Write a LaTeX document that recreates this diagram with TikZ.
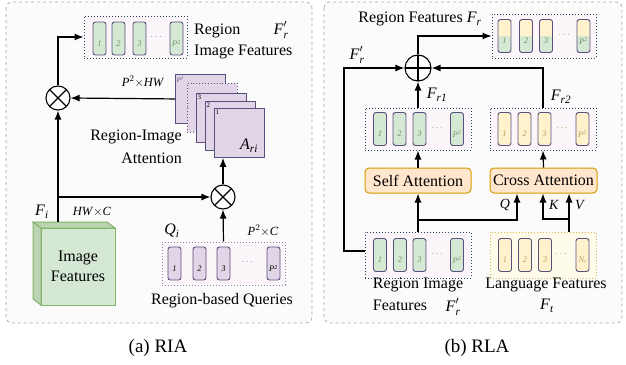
\documentclass[tikz,border=0pt]{standalone}
\usepackage{fontspec}
\setmainfont{Liberation Serif}
\usepackage{amsmath}
\usetikzlibrary{arrows.meta}
\newcommand{\mi}[1]{\text{\textit{#1}}}
\newcommand{\mainf}{\fontsize{16}{18}\selectfont}
\newcommand{\smallf}{\fontsize{12.5}{14}\selectfont}
\newcommand{\capf}{\fontsize{19}{21}\selectfont}
\definecolor{gfill}{HTML}{D5E8D4}
\definecolor{pfill}{HTML}{E1D5E7}
\definecolor{yfill}{HTML}{FFF2CC}
\definecolor{barc}{HTML}{56517E}
\definecolor{dboxc}{HTML}{23445D}
\definecolor{dboxfill}{HTML}{FCF5FA}
\definecolor{ofill}{HTML}{FFE6CC}
\definecolor{odraw}{HTML}{D79B00}
\definecolor{ldraw}{HTML}{D6B656}
\definecolor{lfill}{HTML}{FFFBEA}
\definecolor{cgreen}{HTML}{82B366}
\definecolor{cgreen2}{HTML}{BCD4B3}
\definecolor{panelc}{HTML}{A8A8A8}
\definecolor{dotsc}{HTML}{9673A6}
\definecolor{lblG}{HTML}{6F9460}
\definecolor{lblY}{HTML}{B5A060}
\newcommand{\mybar}[6]{\node[#4] (#1) at (#2,#3) {}; \node[barlbl,text=#5] (#1l) at (#2,#3+5) {#6};}
\newcommand{\Psq}{\textit{P}\textsuperscript{2}}
\tikzset{
  panel/.style={draw=panelc, dashed, rounded corners=6pt, fill=black!1.5, line width=0.7pt},
  dbox/.style={draw=dboxc, dotted, line width=1pt, fill=dboxfill, inner sep=0pt},
  barbox/.style={draw=barc, line width=0.9pt, rounded corners=2.5pt, minimum width=13pt, minimum height=33pt, inner sep=0pt},
  barG/.style={barbox, fill=gfill},
  barP/.style={barbox, fill=pfill},
  barY/.style={barbox, fill=yfill},
  barS/.style={barbox, fill=yfill, path picture={\fill[gfill] (path picture bounding box.west) rectangle (path picture bounding box.south east);}},
  barlbl/.style={font=\fontsize{8.5}{9}\selectfont\itshape, inner sep=0pt},
  arr/.style={line width=1.2pt, -{Latex[length=9pt,width=7pt]}},
  ln/.style={line width=1.2pt},
  otimesn/.style={circle, draw, fill=white, line width=1.1pt, minimum size=24pt, inner sep=0pt,
    path picture={\draw[line width=1.1pt] (path picture bounding box.north west)--(path picture bounding box.south east) (path picture bounding box.north east)--(path picture bounding box.south west);}},
  oplusn/.style={circle, draw, line width=1.1pt, minimum size=26pt, inner sep=0pt,
    path picture={\draw[line width=1.1pt] (path picture bounding box.north)--(path picture bounding box.south) (path picture bounding box.east)--(path picture bounding box.west);}},
  sq/.style={draw=barc, fill=pfill, line width=0.9pt, minimum width=50pt, minimum height=49pt, anchor=north west, inner sep=0pt},
  attn/.style={draw=odraw, fill=ofill, line width=1pt, rounded corners=4pt, minimum width=106pt, minimum height=25pt, inner sep=0pt, font=\mainf},
  txt/.style={font=\mainf, inner sep=0pt},
  stxt/.style={font=\smallf, inner sep=0pt},
  dots/.style={inner sep=0pt, text=dotsc, font=\fontsize{10}{10}\selectfont},
}
\begin{document}
\begin{tikzpicture}[x=1pt, y=-1pt]
\useasboundingbox (0,0) rectangle (626,364);
% panels
\draw[panel] (6,2) rectangle (312,323);
\draw[panel] (324,2) rectangle (622,323);

% ===== Left panel (RIA) =====
\node[dbox, minimum width=103pt, minimum height=42pt] (rif) at (135.5,37) {};
\mybar{a1}{99.5}{38.5}{barG}{lblG}{1}
\mybar{a2}{118.5}{38.5}{barG}{lblG}{2}
\mybar{a3}{139.5}{38.5}{barG}{lblG}{3}
\node[dots] (adots) at (157,37) {$\cdots$};
\mybar{a4}{176.5}{38.5}{barG}{lblG}{\Psq}
\node[txt, anchor=west] (trg) at (194,31) {Region};
\node[txt, anchor=west] (tif) at (194,52) {Image Features};
\node[txt] (tfr) at (281,30) {$\mi{F}'_{\mi{r}}$};

\node[otimesn] (ot1) at (58,98) {};
\draw[arr] (ot1.north) |- (rif.west);

% attention stack
\node[sq] (sqP) at (175,74) {};
\node[sq, dotted] (sqD) at (187,83) {};
\node[sq] (sq3) at (196,93) {};
\node[sq] (sq2) at (205,101) {};
\node[sq] (sq1) at (214,108) {};
\node[barlbl, text=barc, anchor=north west, font=\fontsize{7}{7}\selectfont\itshape] (lP) at ([xshift=1.5pt,yshift=-1.5pt]sqP.north west) {\Psq};
\node[barlbl, text=black, anchor=north west, font=\fontsize{7}{7}\selectfont] (l3) at ([xshift=1.5pt,yshift=-1.5pt]sq3.north west) {3};
\node[barlbl, text=black, anchor=north west, font=\fontsize{7}{7}\selectfont] (l2) at ([xshift=1.5pt,yshift=-1.5pt]sq2.north west) {2};
\node[barlbl, text=black, anchor=north west, font=\fontsize{7}{7}\selectfont] (l1) at ([xshift=1.5pt,yshift=-1.5pt]sq1.north west) {1};
\node[txt] (tari) at (249,146) {$\mi{A}_{\mi{ri}}$};
\node[stxt] (tphw) at (143,82) {$\mi{P}^{2}{\times}\mi{HW}$};
\draw[arr] (sqP.west) -- (ot1.east);
\node[txt, anchor=east] (tri) at (182,137) {Region-Image};
\node[txt, anchor=east] (tat) at (182,158) {Attention};

\node[otimesn] (ot2) at (223,197) {};
\draw[arr] (ot2.north) -- (ot2.north |- sq1.south);

% cube
\coordinate (ctop) at (58,222);
\filldraw[fill=cgreen2, draw=cgreen, line width=1pt] (33,222) -- (107,222) -- (115,228) -- (41,228) -- cycle;
\filldraw[fill=cgreen2, draw=cgreen, line width=1pt] (33,222) -- (41,228) -- (41,305) -- (33,299) -- cycle;
\node[draw=cgreen, fill=gfill, line width=1pt, minimum width=74pt, minimum height=77pt, inner sep=0pt, align=center, font=\mainf] (cube) at (78,266.5) {Image\\[2pt]Features};
\node[txt] (tfi) at (42,212) {$\mi{F}_{\mi{i}}$};
\node[stxt] (thwc) at (92,212) {\textit{HW}${\times}$\textit{C}};
\coordinate (br1) at (58,197);
\draw[arr] (ctop) -- (ot1.south);
\draw[arr] (br1) -- (ot2.west);

% queries
\node[dbox, draw=barc!70, minimum width=123pt, minimum height=43pt] (qbox) at (223.5,263.5) {};
\mybar{q1}{174.5}{263.5}{barP}{black}{1}
\mybar{q2}{199.5}{263.5}{barP}{black}{2}
\mybar{q3}{223.5}{263.5}{barP}{black}{3}
\node[dots] (qdots) at (248,262) {$\cdots$};
\mybar{q4}{273.5}{263.5}{barP}{black}{\Psq}
\draw[arr] (qbox.north) -- (ot2.south);
\node[txt] (tqi) at (172,231) {$\mi{Q}_{\mi{i}}$};
\node[stxt] (tp2c) at (263,231) {$\mi{P}^{2}{\times}\mi{C}$};
\node[txt] (trq) at (222,301) {Region-based Queries};

% ===== Right panel (RLA) =====
\node[dbox, minimum width=104pt, minimum height=44pt] (fbox) at (544,36) {};
\mybar{f1}{504.5}{36}{barS}{lblG}{1}
\mybar{f2}{526}{36}{barS}{lblG}{2}
\mybar{f3}{546}{36}{barS}{lblG}{3}
\node[dots, text=lblY] (fdots) at (565,35) {$\cdots$};
\mybar{f4}{583.5}{36}{barS}{lblG}{\Psq}
\node[txt] (trf) at (420,19) {Region Features $\mi{F}_{\mi{r}}$};

\node[oplusn] (op) at (418,68) {};
\draw[arr] (op.north) |- (fbox.west);

\node[dbox, minimum width=106pt, minimum height=42pt] (r1box) at (418,129) {};
\mybar{b1}{380}{129}{barG}{lblG}{1}
\mybar{b2}{399.5}{129}{barG}{lblG}{2}
\mybar{b3}{419.5}{129}{barG}{lblG}{3}
\node[dots, text=cgreen] (bdots) at (438,128) {$\cdots$};
\mybar{b4}{457}{129}{barG}{lblG}{\Psq}

\node[dbox, minimum width=106pt, minimum height=42pt] (r2box) at (543,129) {};
\mybar{c1}{504.5}{129}{barY}{lblY}{1}
\mybar{c2}{524.5}{129}{barY}{lblY}{2}
\mybar{c3}{544.5}{129}{barY}{lblY}{3}
\node[dots, text=lblY] (cdots) at (563,128) {$\cdots$};
\mybar{c4}{582.5}{129}{barY}{lblY}{\Psq}

\node[attn] (sa) at (418,180.5) {Self Attention};
\node[attn, minimum width=107pt] (ca) at (543.5,180.5) {Cross Attention};

\node[dbox, minimum width=106pt, minimum height=46pt] (rib) at (418,255) {};
\mybar{d1}{380}{255}{barG}{lblG}{1}
\mybar{d2}{400}{255}{barG}{lblG}{2}
\mybar{d3}{419.5}{255}{barG}{lblG}{3}
\node[dots, text=cgreen] (ddots) at (438,254) {$\cdots$};
\mybar{d4}{457}{255}{barG}{lblG}{\Psq}

\node[dbox, draw=ldraw, fill=lfill, minimum width=106pt, minimum height=46pt] (lb) at (543,255) {};
\mybar{e1}{505}{255}{barY}{lblY}{1}
\mybar{e2}{525}{255}{barY}{lblY}{2}
\mybar{e3}{545}{255}{barY}{lblY}{3}
\node[dots, text=lblY] (edots) at (562,254) {$\cdots$};
\mybar{e4}{582.5}{255}{barY}{lblY}{$\mi{N}_{\mi{t}}$}

% connectors right panel
\draw[arr] (rib.north) -- (sa.south);
\coordinate (qb) at (418,220);
\coordinate (qx) at (517,220);
\draw[arr] (qb) -- (qx) -- (qx |- ca.south);
\coordinate (vx) at (569,232);
\coordinate (kb) at (569,219);
\coordinate (kx) at (543,219);
\draw[arr] (vx) -- (vx |- ca.south);
\draw[arr] (kb) -- (kx) -- (kx |- ca.south);
\node[font=\fontsize{14}{14}\selectfont, inner sep=0pt] (tq) at (505,205) {\textit{Q}};
\node[font=\fontsize{14}{14}\selectfont, inner sep=0pt] (tk) at (554,205) {\textit{K}};
\node[font=\fontsize{14}{14}\selectfont, inner sep=0pt] (tv) at (580,205) {\textit{V}};

\draw[arr] (sa.north) -- (r1box.south);
\draw[arr] (ca.north) -- (r2box.south);
\draw[arr] (r1box.north) -- (op.south);
\draw[arr] (r2box.north) |- (op.east);
\coordinate (lp) at (344,251);
\draw[arr] (rib.west |- lp) -- (lp) |- (op.west);
\node[txt] (tfr1) at (437,95) {$\mi{F}_{\mi{r1}}$};
\node[txt] (tfr2) at (561,97) {$\mi{F}_{\mi{r2}}$};
\node[txt] (tfrp) at (357,55) {$\mi{F}'_{\mi{r}}$};

\node[txt] (trib) at (418,285) {Region Image};
\node[txt] (tfeat) at (400,305) {Features};
\node[txt] (tfrp2) at (453,307) {$\mi{F}'_{\mi{r}}$};
\node[txt] (tlf) at (546,285) {Language Features};
\node[txt] (tft) at (547,306) {$\mi{F}_{\mi{t}}$};

% captions
\node[font=\capf, inner sep=0pt] (capa) at (158,348) {(a) RIA};
\node[font=\capf, inner sep=0pt] (capb) at (477,348) {(b) RLA};
\end{tikzpicture}
\end{document}
